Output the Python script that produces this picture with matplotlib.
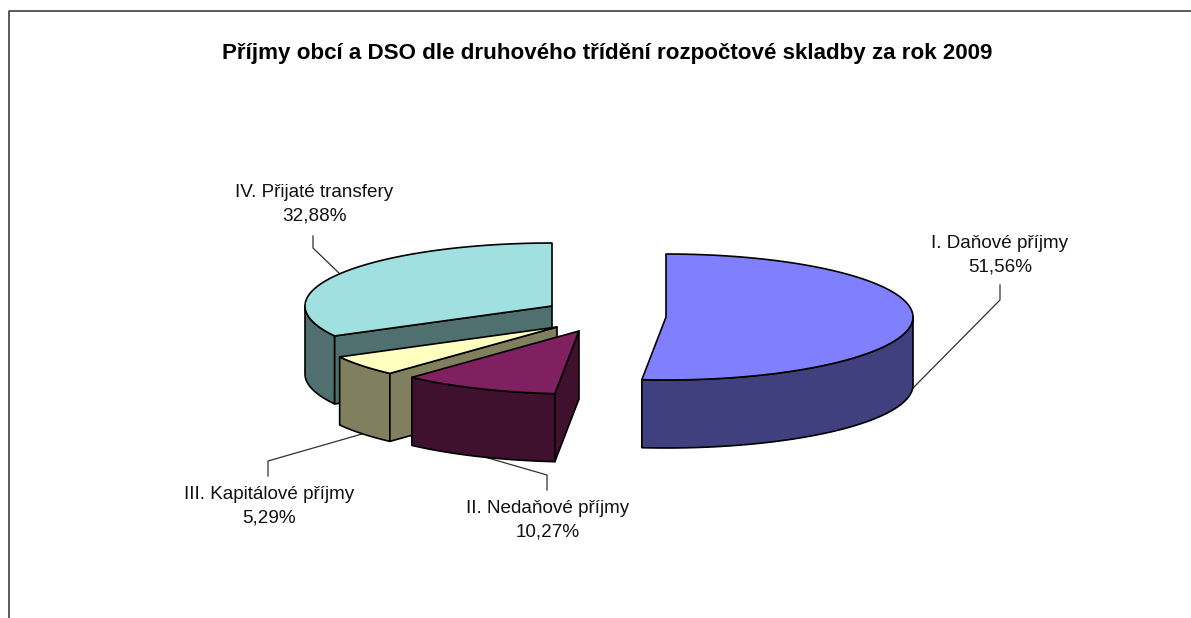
import numpy as np
import matplotlib
matplotlib.use("Agg")
import matplotlib.pyplot as plt
from matplotlib.patches import Polygon

plt.rcParams['font.family'] = ['Liberation Sans', 'DejaVu Sans']

# Data
categories = ["I. Daňové příjmy", "II. Nedaňové příjmy", "III. Kapitálové příjmy", "IV. Přijaté transfery"]
shares = [51.56, 10.27, 5.29, 32.88]
top_colors = ["#8080FF", "#802060", "#FFFFC0", "#A0E0E0"]
side_colors = ["#40407F", "#40102F", "#80805F", "#50706F"]
title = "Příjmy obcí a DSO dle druhového třídění rozpočtové skladby za rok 2009"

# Pie geometry, in pixels
RX, RY, DEPTH = 247, 63, 68
apex = [(666, 317), (579, 331), (557, 327), (552, 306)]
label_pos = [(1000, 255), (548, 520), (269, 506), (314, 204)]
leaders = [[(1000, 285), (1000, 300), (913, 388)],
           [(547, 490), (547, 475), (488, 458)],
           [(268, 476), (268, 461), (362, 434)],
           [(313, 236), (313, 248), (340, 274)]]


def rim(c, a0, a1):
    # clockwise from 12 o'clock, degrees
    t = np.radians(np.linspace(a0, a1, 80))
    return np.column_stack([c[0] + RX * np.sin(t), c[1] - RY * np.cos(t)])


def wall(pts, color, ax, z):
    low = pts[::-1] + [0, DEPTH]
    ax.add_patch(Polygon(np.vstack([pts, low]), closed=True, fc=color, ec="black", lw=1.2, zorder=z, joinstyle="round"))


fig = plt.figure(figsize=(11.91, 6.18), dpi=100)
ax = fig.add_axes([0, 0, 1, 1])
ax.set_xlim(0, 1191)
ax.set_ylim(618, 0)
ax.axis("off")

# Outer frame, the right and bottom edges are cut off
ax.plot([9, 9, 1191], [618, 11, 11], color="#404040", lw=1.2)

edges = np.concatenate([[0], np.cumsum(shares)]) * 3.6
edges[-1] = 360

# Draw back to front
for i in [3, 2, 1, 0]:
    a0, a1 = edges[i], edges[i + 1]
    c = np.array(apex[i], dtype=float)
    z = 10 - i if i else 2
    wall(rim(c, max(a0, 90), min(a1, 270)), side_colors[i], ax, z)
    # cut faces that turn towards the viewer
    if i == 1:
        wall(np.array([rim(c, a0, a0)[0], c]), side_colors[i], ax, z)
    if i in (2, 3):
        wall(np.array([c, rim(c, a0, a0)[0]]), side_colors[i], ax, z)
    top = np.vstack([[c], rim(c, a0, a1)])
    ax.add_patch(Polygon(top, closed=True, fc=top_colors[i], ec="black", lw=1.2, zorder=z, joinstyle="round"))

# Labels with leader lines
for name, val, pos, line in zip(categories, shares, label_pos, leaders):
    pct = f"{val:.2f}%".replace(".", ",")
    ax.text(pos[0], pos[1], name + "\n" + pct, ha="center", va="center", fontsize=13.6, color="#111111", linespacing=1.47)
    xs, ys = zip(*line)
    ax.plot(xs, ys, color="#303030", lw=0.9, zorder=1)

ax.text(607, 53, title, ha="center", va="center", fontsize=16.1, fontweight="bold", color="black")

fig.savefig("out.png", dpi=100)
